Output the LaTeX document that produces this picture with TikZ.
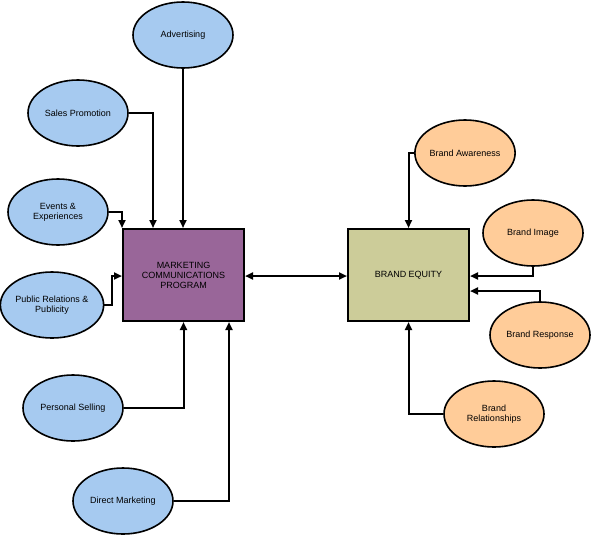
\documentclass[tikz,border=0pt]{standalone}
\usepackage{fontspec}
\setmainfont{Liberation Sans}
\usetikzlibrary{shapes.geometric,arrows.meta}
\definecolor{commblue}{RGB}{166,202,240}
\definecolor{brandorange}{RGB}{255,204,153}
\definecolor{progpurple}{RGB}{153,102,153}
\definecolor{equityolive}{RGB}{204,204,153}
\newcommand\lineWidth{2pt}
\newcommand\boxW{121pt}
\newcommand\boxH{92pt}
\tikzset{
	txt/.style={font=\fontsize{9}{10}\selectfont, align=center},
	oval/.style={txt, ellipse, draw, line width=1.6pt, minimum width=100pt, minimum height=66pt, inner sep=0pt},
	commoval/.style={oval, fill=commblue},
	brandoval/.style={oval, fill=brandorange},
	bigbox/.style={txt, draw, line width=\lineWidth, minimum width=\boxW, minimum height=\boxH, inner sep=0pt},
	arr/.style={line width=\lineWidth, -{Triangle[length=8pt,width=7pt]}},
}

\begin{document}
\begin{tikzpicture}[x=1pt,y=-1pt]
	\useasboundingbox (0,0) rectangle (591,536);

	% the two boxes
	\node[bigbox, fill=progpurple] (mcp) at (183.5,275) {MARKETING\\COMMUNICATIONS\\PROGRAM};
	\node[bigbox, fill=equityolive] (be) at (408.5,275) {BRAND EQUITY};

	% communication options
	\node[commoval] (adv) at (183,35) {Advertising};
	\node[commoval] (sales) at (78,113) {Sales Promotion};
	\node[commoval] (events) at (58,212) {Events \&\\Experiences};
	\node[commoval] (pr) at (52,305) {Public Relations \&\\Publicity};
	\node[commoval] (pers) at (73,408) {Personal Selling};
	\node[commoval] (direct) at (123,501) {Direct Marketing};

	% brand equity dimensions
	\node[brandoval] (aware) at (465,153) {Brand Awareness};
	\node[brandoval] (image) at (533,233) {Brand Image};
	\node[brandoval] (resp) at (540,335) {Brand Response};
	\node[brandoval] (rel) at (494,414) {Brand\\Relationships};

	% into the program
	\draw[arr] (adv.south) -- (adv.south |- mcp.north);
	\draw[arr] (sales.east) -| ([xshift=-30.5pt]mcp.north);
	\draw[arr] (events.east) -| (mcp.north west);
	\draw[arr] (pr.east) -| ([xshift=-10pt,yshift=-1pt]mcp.west) -- ([yshift=-1pt]mcp.west);
	\draw[arr] (pers.east) -| (mcp.south);
	\draw[arr] (direct.east) -| ([xshift=45.5pt]mcp.south);

	% program <-> equity
	\draw[arr, {Triangle[length=8pt,width=7pt]}-{Triangle[length=8pt,width=7pt]}] ([yshift=-1pt]mcp.east) -- ([yshift=-1pt]be.west);

	% into brand equity
	\draw[arr] (aware.west) -| (be.north);
	\draw[arr] (image.south) |- ([yshift=-1pt]be.east);
	\draw[arr] (resp.north) |- ([yshift=-16pt]be.east);
	\draw[arr] (rel.west) -| (be.south);
\end{tikzpicture}
\end{document}
